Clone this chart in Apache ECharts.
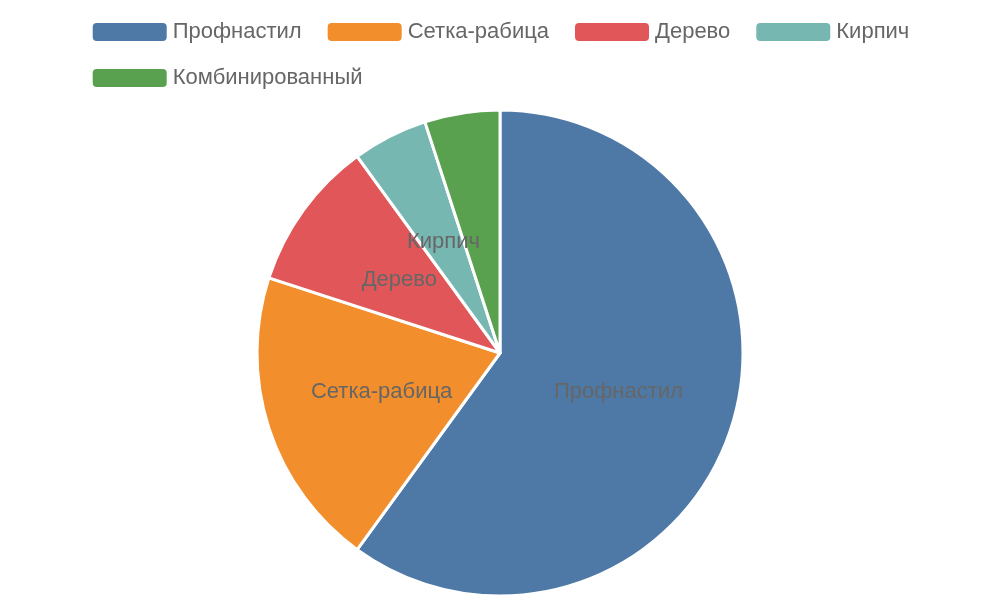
<!DOCTYPE html>
<html><head><meta charset="utf-8">
<script src="https://cdn.jsdelivr.net/npm/echarts@6/dist/echarts.min.js"></script>
<style>html,body{margin:0;padding:0}#c{width:1000px;height:600px}</style>
</head><body><div id="c"></div>
<script>
const categories = ['Профнастил','Сетка-рабица','Дерево','Кирпич','Комбинированный'];
const values = [60,20,10,5,5];
const colors = ['#4e79a7','#f28e2b','#e15759','#76b7b2','#59a14f'];
const chart = echarts.init(document.getElementById('c'));
chart.setOption({
  color: colors,
  legend: {top: 16, itemWidth: 76, itemHeight: 20, itemGap: 24,
    textStyle: {fontSize: 22, color: '#666', fontFamily: 'Liberation Sans'}},
  series: [{
    type: 'pie', center: [500, 353], radius: 243,
    startAngle: 90, clockwise: true,
    itemStyle: {borderColor: '#fff', borderWidth: 3},
    label: {position: 'inside', fontSize: 22, color: '#666', fontFamily: 'Liberation Sans'},
    labelLine: {show: false},
    data: categories.map((n, i) => ({name: n, value: values[i]}))
  }]
});
</script></body></html>
